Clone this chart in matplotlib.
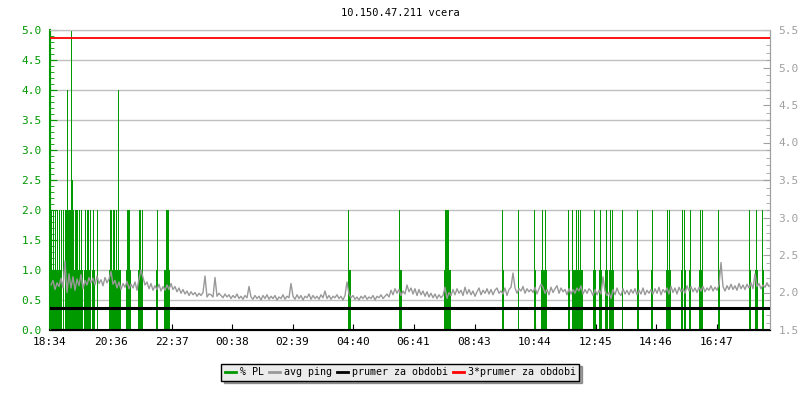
import numpy as np
import matplotlib
matplotlib.use("Agg")
import matplotlib.pyplot as plt
from matplotlib.lines import Line2D
from matplotlib.ticker import MultipleLocator

# popisky casove osy (start 18:34, 24 h, 2 min na vzorek)
start_label = "18:34"
tick_labels = ["18:34", "20:36", "22:37", "00:38", "02:39", "04:40",
               "06:41", "08:43", "10:44", "12:45", "14:46", "16:47"]
span_min = 1440
slot_min = 2

# % PL - souvisle useky s 1.0 % (cisla 2min slotu od/do)
pl_fill = [(1, 11), (15, 32), (34, 39), (42, 44), (59, 70), (76, 80), (88, 92),
           (106, 107), (114, 119), (299, 300), (350, 351), (394, 400), (453, 453),
           (485, 485), (491, 496), (519, 519), (522, 524), (525, 525), (527, 532),
           (543, 545), (549, 551), (555, 557), (559, 563), (587, 588), (601, 602),
           (616, 620), (631, 632), (634, 635), (639, 640), (649, 652), (668, 669),
           (699, 700), (705, 707), (712, 713)]
# % PL - spicky (slot, hodnota)
pl_spikes = [(1, 2.0), (3, 2.0), (5, 2.0), (7, 2.0), (9, 2.0), (11, 2.0), (13, 2.0),
             (15, 2.0), (16, 2.0), (17, 4.0), (18, 2.0), (19, 2.0), (20, 2.0),
             (21, 5.0), (22, 2.5), (23, 2.0), (25, 2.0), (26, 2.0), (27, 2.0),
             (29, 2.0), (31, 2.0), (35, 2.0), (37, 2.0), (38, 2.0), (40, 2.0),
             (43, 2.0), (47, 2.0), (60, 2.0), (61, 2.0), (63, 2.0), (64, 2.0),
             (66, 2.0), (68, 4.0), (77, 2.0), (78, 2.0), (79, 2.0), (89, 2.0),
             (90, 2.0), (92, 2.0), (107, 2.0), (116, 2.0), (117, 2.0), (118, 2.0),
             (298, 2.0), (349, 2.0), (395, 2.0), (396, 2.0), (397, 2.0),
             (398, 2.0), (452, 2.0), (468, 2.0), (484, 2.0), (492, 2.0), (495, 2.0),
             (518, 2.0), (522, 2.0), (526, 2.0), (528, 2.0), (530, 2.0), (544, 2.0),
             (550, 2.0), (556, 2.0), (560, 2.0), (562, 2.0), (572, 2.0), (587, 2.0),
             (602, 2.0), (617, 2.0), (619, 2.0), (632, 2.0), (634, 2.0), (640, 2.0),
             (650, 2.0), (652, 2.0), (668, 2.0), (699, 2.0), (706, 2.0), (712, 2.0)]

# avg ping [ms], po 4 minutach
ping_step = 4
avg_ping = [
    2.10, 2.16, 2.04, 2.13, 2.08, 2.19, 2.06, 2.42, 2.00, 2.25, 2.06, 2.21, 2.03, 2.18, 2.09, 2.24, 2.05, 2.16, 2.10, 2.20,
    2.13, 2.19, 2.10, 2.22, 2.12, 2.17, 2.09, 2.20, 2.13, 2.18, 2.28, 2.11, 2.16, 2.06, 2.14, 2.04, 2.12, 2.07, 2.15, 2.05,
    2.11, 2.06, 2.14, 2.03, 2.18, 2.30, 2.20, 2.10, 2.14, 2.05, 2.12, 2.03, 2.09, 2.04, 2.11, 2.02, 2.08, 2.03, 2.10, 2.04,
    2.12, 2.04, 2.08, 2.01, 2.06, 1.99, 2.04, 1.98, 2.02, 1.96, 2.01, 1.97, 2.00, 1.95, 1.99, 1.96, 2.00, 2.22, 1.94, 1.98,
    1.97, 1.94, 2.20, 1.95, 1.99, 1.96, 1.93, 1.98, 1.94, 1.97, 1.92, 1.96, 1.93, 1.98, 1.92, 1.95, 1.91, 1.96, 1.93, 2.08,
    1.94, 1.91, 1.96, 1.92, 1.95, 1.90, 1.96, 1.92, 1.97, 1.91, 1.95, 1.92, 1.96, 1.90, 1.94, 1.92, 1.97, 1.91, 1.95, 1.93,
    2.12, 1.95, 1.91, 1.97, 1.92, 1.96, 1.90, 1.95, 1.93, 1.98, 1.91, 1.96, 1.92, 1.95, 1.91, 1.97, 1.93, 2.02, 1.92, 1.96,
    1.91, 1.95, 1.93, 1.97, 1.92, 1.95, 1.90, 1.96, 2.14, 1.98, 1.93, 1.96, 1.91, 1.94, 1.90, 1.95, 1.92, 1.96, 1.91, 1.94,
    1.92, 1.96, 1.90, 1.95, 1.93, 1.97, 1.92, 1.95, 1.98, 1.94, 2.03, 1.97, 2.05, 1.99, 2.04, 1.96, 2.02, 1.98, 2.10, 2.01,
    2.06, 1.98, 2.05, 1.96, 2.04, 1.97, 2.02, 1.95, 2.01, 1.94, 1.99, 1.93, 1.98, 1.92, 1.97, 1.93, 1.96, 2.07, 1.92, 2.00,
    1.96, 2.04, 1.97, 2.05, 1.99, 2.03, 1.96, 2.07, 1.98, 2.04, 1.97, 2.02, 1.95, 2.01, 2.06, 1.97, 2.03, 1.99, 2.05, 1.98,
    2.04, 1.97, 2.03, 2.06, 1.99, 2.02, 1.98, 2.06, 1.96, 2.04, 2.07, 2.26, 2.06, 1.99, 2.05, 2.02, 2.08, 1.99, 2.05, 2.01,
    2.04, 2.00, 2.07, 1.98, 2.05, 2.11, 2.07, 1.99, 2.04, 1.97, 2.07, 2.00, 2.05, 2.09, 1.99, 2.06, 2.01, 2.04, 1.97, 2.05,
    1.98, 2.04, 1.99, 2.06, 2.02, 2.09, 1.98, 2.04, 1.99, 2.05, 2.02, 1.96, 2.04, 1.97, 2.03, 1.98, 2.21, 2.02, 1.96, 2.00,
    1.92, 2.04, 1.97, 2.06, 1.99, 1.96, 2.05, 1.98, 2.03, 1.97, 2.04, 1.99, 2.05, 1.97, 2.03, 1.98, 2.06, 1.97, 2.03, 1.99,
    2.04, 1.98, 2.05, 1.99, 2.07, 1.97, 2.04, 2.00, 2.06, 1.98, 2.08, 2.00, 2.06, 1.98, 2.07, 2.01, 2.05, 1.99, 2.09, 2.02,
    2.08, 2.01, 2.06, 2.00, 2.07, 2.02, 2.08, 2.01, 2.06, 2.03, 2.09, 2.02, 2.07, 2.03, 2.10, 2.40, 2.08, 2.02, 2.09, 2.04,
    2.11, 2.04, 2.09, 2.03, 2.12, 2.05, 2.10, 2.04, 2.11, 2.06, 2.13, 2.05, 2.25, 2.08, 2.12, 2.05, 2.10, 2.07, 2.13, 2.08,
]
prumer = 1.80  # prumer za obdobi [ms]

GREEN = "#009900"
GRAY = "#999999"
MONO = "DejaVu Sans Mono"


def to_min(hhmm):
    h, m = hhmm.split(":")
    h0, m0 = start_label.split(":")
    return ((int(h) * 60 + int(m)) - (int(h0) * 60 + int(m0))) % 1440


# slozeni PL sloupcu
pl_t, pl_v = [], []
for a, b in pl_fill:
    for s in range(a, b + 1):
        pl_t.append(s)
        pl_v.append(1.0)
for s, v in pl_spikes:
    pl_t.append(s)
    pl_v.append(v)
pl_t = np.array(pl_t) * slot_min
pl_v = np.array(pl_v)

ping_t = np.arange(len(avg_ping)) * ping_step + ping_step / 2

fig = plt.figure(figsize=(8, 4), dpi=100)
ax = fig.add_axes([50 / 800, 70 / 400, 720 / 800, 300 / 400])
ax2 = ax.twinx()

ax.bar(pl_t, pl_v, width=slot_min, align="edge", color=GREEN, linewidth=0, zorder=2)
ax2.plot(ping_t, avg_ping, color=GRAY, lw=1, zorder=3)
ax2.axhline(prumer, color="black", lw=2.2, zorder=4)
ax2.axhline(3 * prumer, color="red", lw=1.3, zorder=4)

ax.set_xlim(0, span_min)
ax.set_ylim(0, 5)
ax2.set_ylim(1.5, 5.5)

ax.yaxis.set_major_locator(MultipleLocator(0.5))
ax.yaxis.set_minor_locator(MultipleLocator(0.1))
ax2.yaxis.set_major_locator(MultipleLocator(0.5))
ax2.yaxis.set_minor_locator(MultipleLocator(0.1))
ax.yaxis.set_major_formatter(lambda v, p: f"{v:.1f}")
ax2.yaxis.set_major_formatter(lambda v, p: f"{v:.1f}")
ax.grid(axis="y", color="#c0c0c0", lw=1, zorder=0)
ax.set_axisbelow(True)

ax.set_xticks([to_min(t) for t in tick_labels])
ax.set_xticklabels(tick_labels, fontname=MONO, fontsize=8)

ax.tick_params(axis="x", direction="in", length=4, color="black", pad=5)
ax.tick_params(axis="y", which="major", direction="in", length=5, color=GREEN,
               labelcolor=GREEN, labelsize=8, pad=6)
ax.tick_params(axis="y", which="minor", direction="in", length=3, color=GREEN)
ax2.tick_params(axis="y", which="major", direction="in", length=5, color="#a0a0a0",
                labelcolor="#a0a0a0", labelsize=8, pad=6)
ax2.tick_params(axis="y", which="minor", direction="in", length=3, color="#a0a0a0")
for lab in ax.get_yticklabels() + ax2.get_yticklabels():
    lab.set_fontname(MONO)

for a in (ax, ax2):
    a.spines["left"].set_color(GREEN)
    a.spines["bottom"].set_color("black")
    a.spines["top"].set_color("#c0c0c0")
    a.spines["right"].set_color("#a0a0a0")
ax.spines["left"].set_linewidth(1.5)
ax.spines["bottom"].set_linewidth(1.5)

fig.text(0.5, 1 - 13 / 400, "10.150.47.211 vcera", ha="center", va="center",
         fontname=MONO, fontsize=7.5)

handles = [Line2D([], [], color=GREEN, lw=2), Line2D([], [], color=GRAY, lw=2),
           Line2D([], [], color="black", lw=2), Line2D([], [], color="red", lw=2)]
labels = ["% PL", "avg ping", "prumer za obdobi", "3*prumer za obdobi"]
leg = fig.legend(handles, labels, loc="center", bbox_to_anchor=(0.5, 1 - 372 / 400),
                 ncol=4, fancybox=False, shadow=True, handlelength=1.1,
                 handletextpad=0.4, columnspacing=0.5, borderpad=0.35,
                 prop={"family": MONO, "size": 7.2})
leg.get_frame().set_edgecolor("black")
leg.get_frame().set_facecolor("#ebebeb")
leg.get_frame().set_alpha(1)

fig.savefig("out.png", dpi=100)
